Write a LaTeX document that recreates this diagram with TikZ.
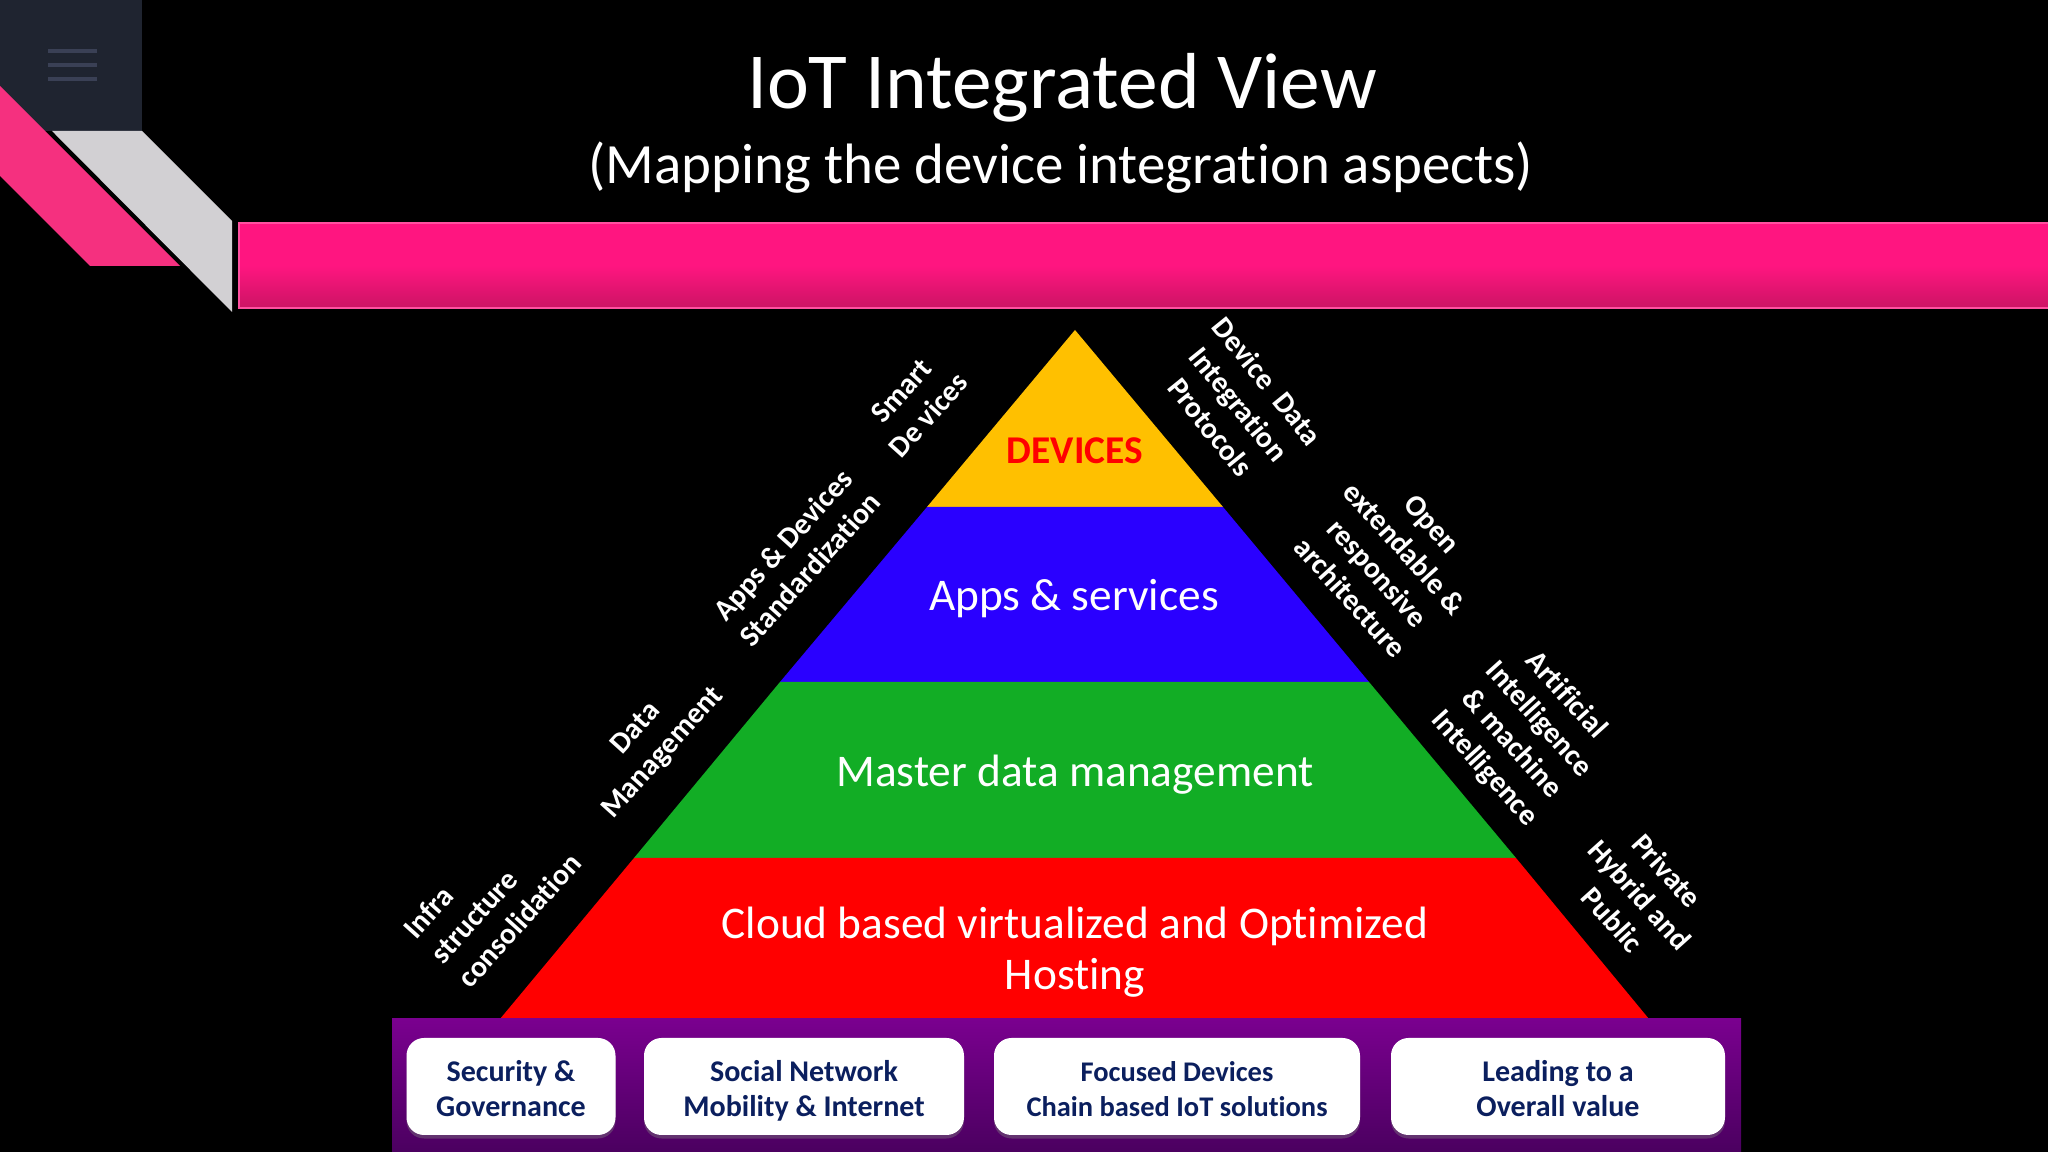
\documentclass[tikz,border=0pt]{standalone}
\usepackage{fontspec}
\setmainfont[Ligatures=NoCommon]{Carlito}
\usetikzlibrary{shadows}
\definecolor{menudark}{HTML}{1F2430}
\definecolor{menuline}{HTML}{3A4055}
\definecolor{ribbonpink}{HTML}{F5307F}
\definecolor{ribbongray}{HTML}{D2D0D3}
\definecolor{barpink}{HTML}{FF1580}
\definecolor{barpinkdark}{HTML}{CC1464}
\definecolor{devyellow}{HTML}{FFC000}
\definecolor{appblue}{HTML}{2A00FF}
\definecolor{datagreen}{HTML}{12AD25}
\definecolor{bandtop}{HTML}{7A008F}
\definecolor{bandbottom}{HTML}{4B0060}
\definecolor{boxnavy}{HTML}{0B1F5E}
\tikzset{
  layertext/.style={text=white,font=\fontsize{12.9}{14.5}\selectfont,align=center},
  sidelabel/.style={text=white,font=\fontsize{8.5}{10.4}\selectfont\bfseries,align=center},
  valuebox/.style={fill=white,rounded corners=5pt,drop shadow={opacity=0.4,shadow xshift=0pt,shadow yshift=-1pt},
    text=boxnavy,font=\fontsize{8.55}{10.1}\selectfont\bfseries,align=center,inner sep=0pt,minimum height=0.97cm,text height=17.2pt,text depth=0pt},
}
\begin{document}
\begin{tikzpicture}
  \useasboundingbox (0,0) rectangle (20.48,11.52);
  \fill[black] (0,0) rectangle (20.48,11.52);

  % corner
  \fill[menudark] (0,11.52) rectangle (1.42,10.21);
  \foreach \y in {11.01,10.87,10.73}
    \fill[menuline] (0.48,\y-0.02) rectangle (0.97,\y+0.02);
  \fill[ribbonpink] (0,10.66) -- (1.80,8.86) -- (0.90,8.86) -- (0,9.76) -- cycle;
  \fill[ribbongray] (0.52,10.21) -- (1.42,10.21) -- (2.32,9.31) -- (2.32,8.40) -- cycle;
  \shade[top color=barpink,bottom color=barpinkdark,middle color=barpink,draw=barpink!75!white,line width=0.4pt] (2.39,9.29) rectangle (20.5,8.44);

  \node[text=white,font=\fontsize{22.6}{26}\selectfont] (title) at (10.62,10.64) {IoT Integrated View};
  \node[text=white,font=\fontsize{16.2}{19}\selectfont] (subtitle) at (10.61,9.84) {(Mapping the device integration aspects)};

  % pyramid
  \fill[devyellow] (10.75,8.22) -- (12.23,6.45) -- (9.27,6.45) -- cycle;
  \fill[appblue] (9.27,6.45) -- (12.23,6.45) -- (13.69,4.70) -- (7.80,4.70) -- cycle;
  \fill[datagreen] (7.80,4.70) -- (13.69,4.70) -- (15.16,2.94) -- (6.34,2.94) -- cycle;
  \fill[red] (6.34,2.94) -- (15.16,2.94) -- (16.49,1.33) -- (5.00,1.33) -- cycle;

  \node[text=red,font=\fontsize{11.2}{13}\selectfont\bfseries] (devices) at (10.75,7.01) {DEVICES};
  \node[layertext] (apps) at (10.74,5.53) {Apps \& services};
  \node[layertext] (master) at (10.75,3.77) {Master data management};
  \node[layertext] (cloud) at (10.75,2.00) {Cloud based virtualized and Optimized\\Hosting};

  % left side
  \node[sidelabel,rotate=48] (smart) at (9.15,7.49) {Smart\\De vices};
  \node[sidelabel,rotate=48] (standard) at (7.96,5.95) {Apps \& Devices\\Standardization};
  \node[sidelabel,rotate=48] (datamgmt) at (6.50,4.11) {Data\\Management};
  \node[sidelabel,rotate=48,align=left] (infra) at (4.92,2.56) {Infra\\structure\\consolidation};

  % right side
  \node[sidelabel,rotate=-51] (protocols) at (12.39,7.48) {Device\ \ Data\\Integration\\Protocols};
  \node[sidelabel,rotate=-48] (open) at (13.91,5.91) {Open\\extendable \&\\responsive\\architecture};
  \node[sidelabel,rotate=-48] (artificial) at (15.25,4.20) {Artificial\\Intelligence\\\& machine\\Intelligence};
  \node[sidelabel,rotate=-48] (private) at (16.40,2.57) {Private\\Hybrid and\\Public};

  % band
  \shade[top color=bandtop,bottom color=bandbottom] (3.92,0) rectangle (17.41,1.33);
  \node[valuebox,minimum width=2.09cm] (security) at (5.11,0.655) {Security \&\\Governance};
  \node[valuebox,minimum width=3.20cm] (social) at (8.04,0.655) {Social Network\\Mobility \& Internet};
  \node[valuebox,minimum width=3.66cm,font=\fontsize{8.1}{10.1}\selectfont\bfseries] (focused) at (11.77,0.655) {Focused Devices\\Chain based IoT solutions};
  \node[valuebox,minimum width=3.34cm] (leading) at (15.58,0.655) {Leading to a\\Overall value};
\end{tikzpicture}
\end{document}
